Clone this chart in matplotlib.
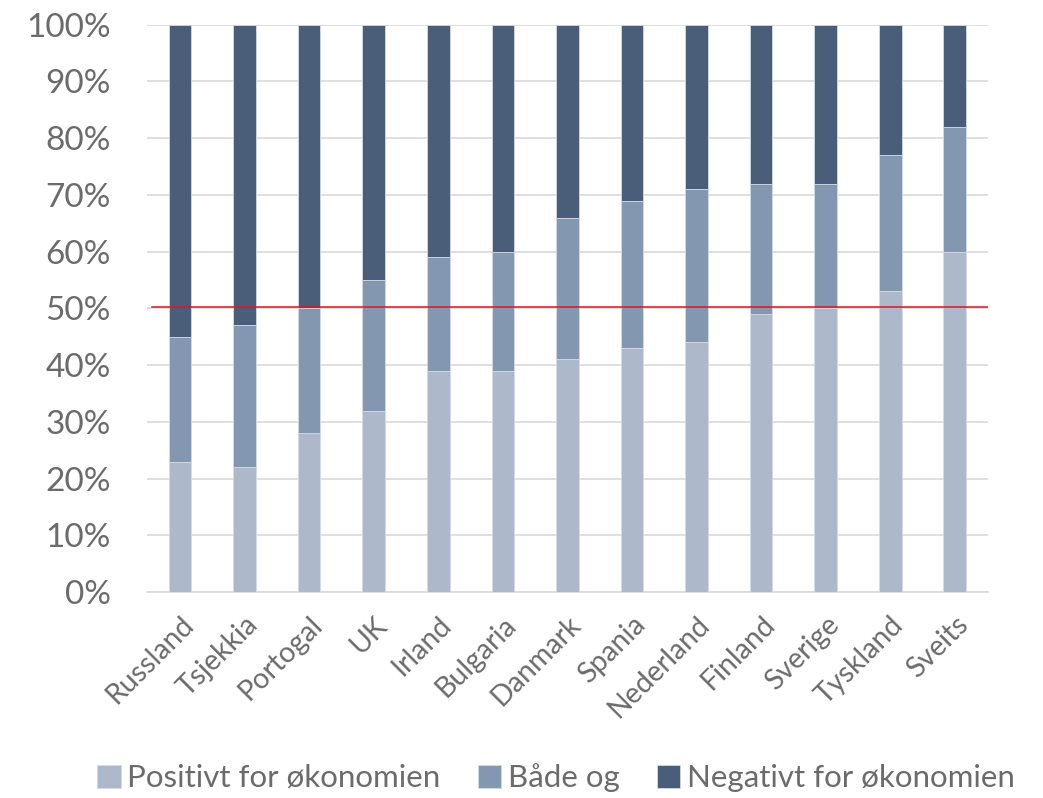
import numpy as np
import matplotlib.pyplot as plt

countries = ["Russland", "Tsjekkia", "Portogal", "UK", "Irland", "Bulgaria", "Danmark",
             "Spania", "Nederland", "Finland", "Sverige", "Tyskland", "Sveits"]
positive = [23, 22, 28, 32, 39, 39, 41, 43, 44, 49, 50, 53, 60]
both_cum = [45, 47, 50, 55, 59, 60, 66, 69, 71, 72, 72, 77, 82]
both = [b - p for b, p in zip(both_cum, positive)]
negative = [100 - b for b in both_cum]
series_names = ["Positivt for økonomien", "Både og", "Negativt for økonomien"]
colors = ["#ADB9CA", "#8497B0", "#4A5E7A"]
ref_line = 50.2

plt.rcParams['font.family'] = ['Lato', 'DejaVu Sans']
text_col = "#6b6b6b"

fig = plt.figure(figsize=(10.43, 7.98), dpi=100)
ax = fig.add_axes([0.141, 0.258, 0.806, 0.711])

x = np.arange(len(countries))
w = 0.35
pos = np.array(positive) / 100
bo = np.array(both) / 100
ne = np.array(negative) / 100
ax.bar(x, pos, w, color=colors[0], label=series_names[0], edgecolor="#d5dbe4", linewidth=0.6, zorder=3)
ax.bar(x, bo, w, bottom=pos, color=colors[1], label=series_names[1], edgecolor="#d5dbe4", linewidth=0.6, zorder=3)
ax.bar(x, ne, w, bottom=pos + bo, color=colors[2], label=series_names[2], edgecolor="#d5dbe4", linewidth=0.6, zorder=3)
ax.axhline(ref_line / 100, xmin=0.006, color="#e0141e", linewidth=1.1, zorder=4)

ax.set_xlim(-0.51, len(countries) - 0.49)
ax.set_ylim(0, 1)
ax.set_yticks(np.arange(0, 1.01, 0.1))
ax.set_yticklabels([f"{v}%" for v in range(0, 101, 10)])
ax.yaxis.grid(True, color="#d9d9d9", linewidth=1.2, zorder=0)
ax.set_axisbelow(True)
for s in ["top", "right", "left"]:
    ax.spines[s].set_visible(False)
ax.spines["bottom"].set_color("#d9d9d9")
ax.spines["bottom"].set_linewidth(1.2)
ax.tick_params(axis="y", length=0, pad=26, labelsize=24, labelcolor=text_col)
ax.tick_params(axis="x", length=0, pad=14, labelsize=20.5, labelcolor=text_col)
ax.set_xticks(x)
ax.set_xticklabels(countries, rotation=45, ha="right", va="top", rotation_mode="anchor")

fig.legend(loc="lower center", bbox_to_anchor=(0.533, -0.028), ncol=3, frameon=False,
           fontsize=22.5, labelcolor=text_col, handlelength=0.75, handleheight=0.75,
           handletextpad=0.2, columnspacing=1.2)

fig.savefig("out.png", dpi=100)
